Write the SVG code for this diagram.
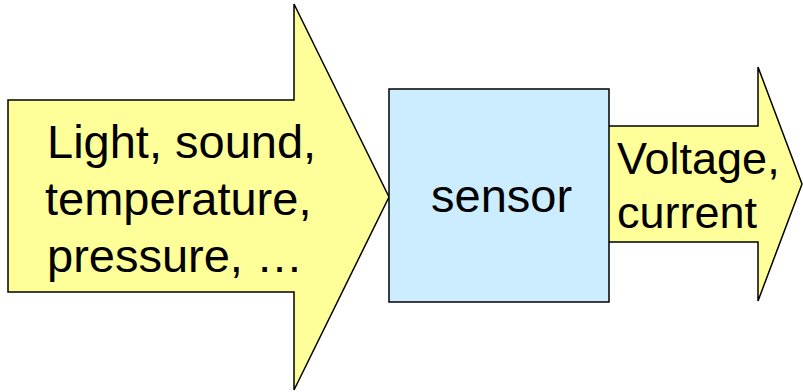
<svg xmlns="http://www.w3.org/2000/svg" width="803" height="392" viewBox="0 0 803 392">
<style>
.arrow{fill:#FFFF99;stroke:#000;stroke-width:1.5;stroke-linejoin:miter}
.box{fill:#CCECFF;stroke:#000;stroke-width:1.5}
.t{font-family:"Liberation Sans",Arial,sans-serif;font-size:47px;fill:#000}
.s{font-size:45px}
</style>
<rect width="803" height="392" fill="#fff"/>
<g id="connectors">
<g id="input-arrow">
<polygon class="arrow" points="8,100 294,100 294,4 389,197 294,390 294,292 8,292"/>
<text class="t" x="47" y="158">Light, sound,</text>
<text class="t" x="45" y="215">temperature,</text>
<text class="t" x="47" y="272">pressure, …</text>
</g>
<g id="output-arrow">
<polygon class="arrow" points="608,126 758,126 758,67 802,184 758,301 758,242 608,242"/>
<text class="t s" x="617" y="174">Voltage,</text>
<text class="t s" x="617" y="228">current</text>
</g>
</g>
<g id="sensor">
<rect class="box" x="389" y="89" width="220" height="213"/>
<text class="t" x="431" y="212">sensor</text>
</g>
</svg>
